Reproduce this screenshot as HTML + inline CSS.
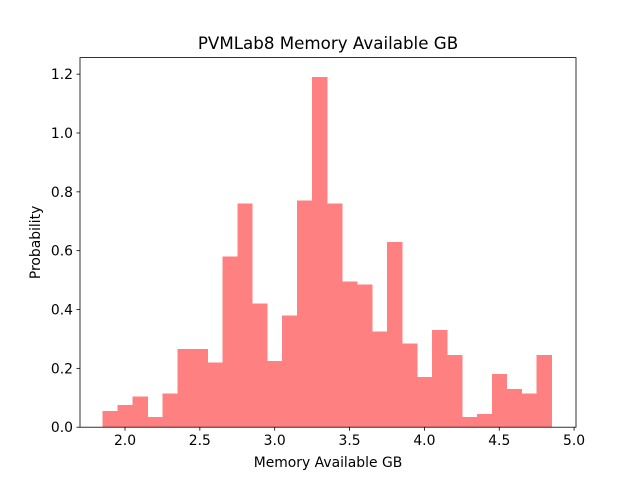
<!DOCTYPE html>
<html><head><meta charset="utf-8"><style>
body{margin:0;background:#fff;}
svg{display:block;font-family:"DejaVu Sans","Liberation Sans",sans-serif;}
</style></head><body>
<svg id="chart" width="640" height="480"></svg>
<script>
const binStart = 1.85;
const binWidth = 0.1;
const probabilities = [0.055,0.075,0.105,0.035,0.115,0.265,0.265,0.22,0.58,0.76,0.42,0.225,0.38,0.77,1.19,0.76,0.495,0.485,0.325,0.63,0.285,0.17,0.33,0.245,0.035,0.045,0.18,0.13,0.115,0.245];
const xTicks = [2.0,2.5,3.0,3.5,4.0,4.5,5.0];
const yTicks = [0.0,0.2,0.4,0.6,0.8,1.0,1.2];

const NS='http://www.w3.org/2000/svg';
const svg=document.getElementById('chart');
const L=80,R=576,T=57.6,B=427.2;
const xs=v=>125+(v-2)*149.7;
const ys=v=>B-v*294.2;
function mk(t,a,p){const e=document.createElementNS(NS,t);for(const k in a)e.setAttribute(k,a[k]);(p||svg).appendChild(e);return e;}

const bars=mk('g',{'shape-rendering':'crispEdges'});


probabilities.forEach((p,i)=>{
  const x0=xs(binStart+i*binWidth),x1=xs(binStart+(i+1)*binWidth);
  const r=mk('rect',{x:x0,y:ys(p),width:x1-x0+0.5,height:B-ys(p),fill:'#ff8080'},bars);
  
  
});

const frame=mk('rect',{x:L,y:T,width:R-L,height:B-T,fill:'none',stroke:'#000','stroke-width':0.8});



xTicks.forEach(v=>{
  const x=xs(v);
  mk('line',{x1:x,x2:x,y1:B,y2:B+3.5,stroke:'#000','stroke-width':0.8});
  const t=mk('text',{x:x,y:B+18,'text-anchor':'middle','font-size':13.9});
  t.textContent=v.toFixed(1);
  
  
});
yTicks.forEach(v=>{
  const y=ys(v);
  mk('line',{x1:L-3.5,x2:L,y1:y,y2:y,stroke:'#000','stroke-width':0.8});
  const t=mk('text',{x:L-7,y:y+5,'text-anchor':'end','font-size':13.9});
  t.textContent=v.toFixed(1);
  
  
});

const title=mk('text',{x:(L+R)/2,y:49,'text-anchor':'middle','font-size':16.7});
title.textContent='PVMLab8 Memory Available GB';


const xl=mk('text',{x:(L+R)/2,y:467,'text-anchor':'middle','font-size':13.9});
xl.textContent='Memory Available GB';


const yl=mk('text',{x:0,y:0,'text-anchor':'middle','font-size':13.9,transform:'translate(40,'+((T+B)/2)+') rotate(-90)'});
yl.textContent='Probability';


</script>
</body></html>
